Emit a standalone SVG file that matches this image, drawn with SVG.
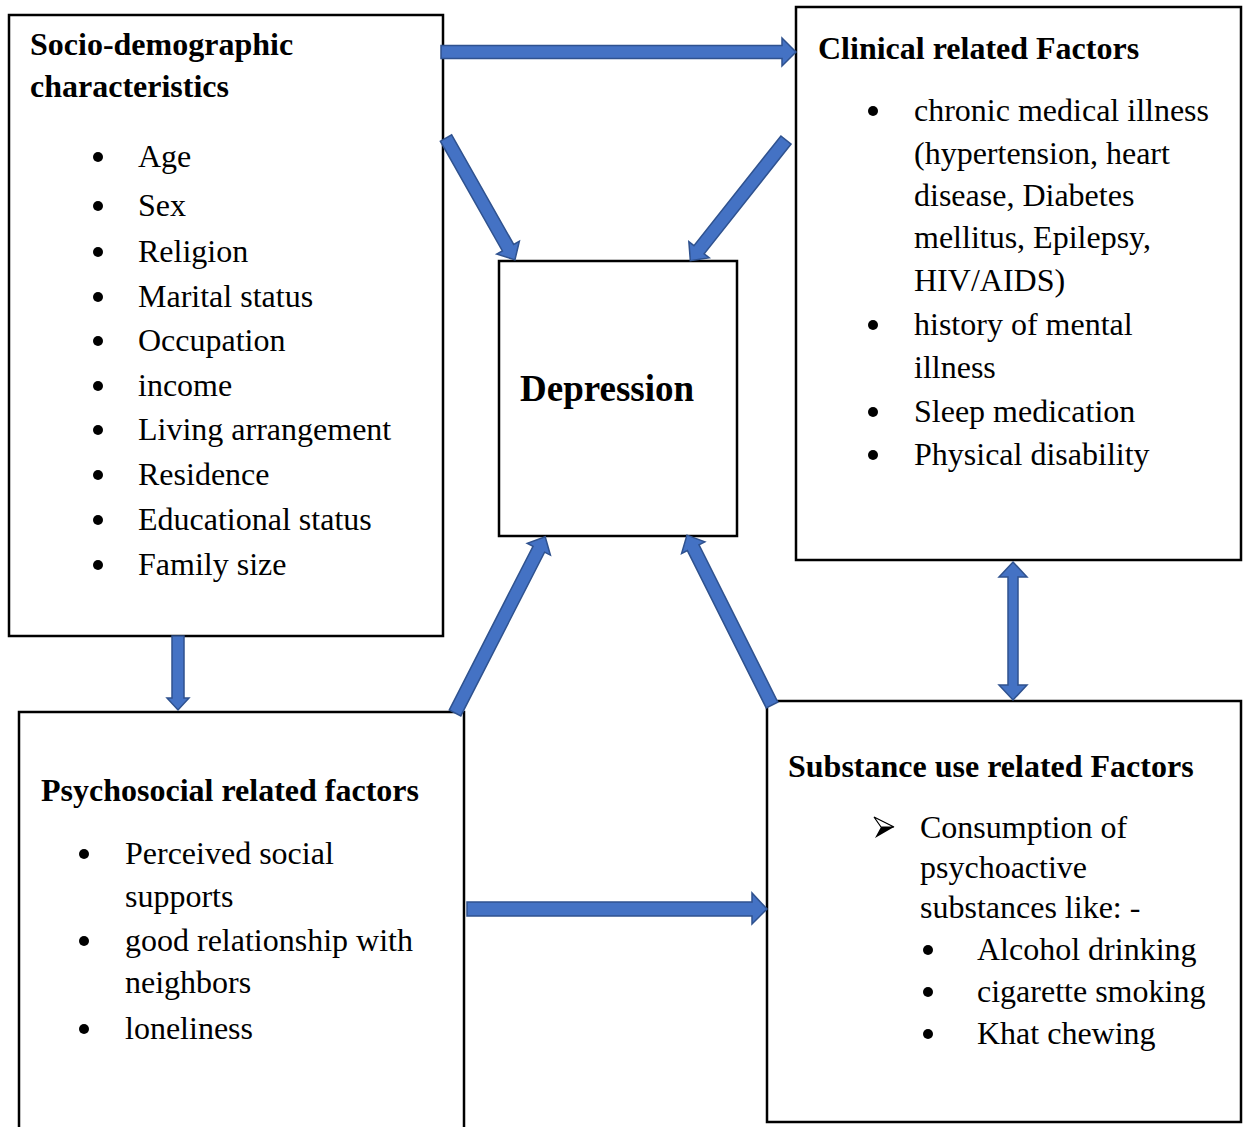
<svg xmlns="http://www.w3.org/2000/svg" width="1244" height="1127" viewBox="0 0 1244 1127">
<style>
.box{fill:#fff;stroke:#000;stroke-width:2.5}
.arr{fill:#4472C4;stroke:#2F528F;stroke-width:1.5;stroke-linejoin:miter}
text{font-family:"Liberation Serif","Times New Roman",serif;fill:#000}
.h{font-weight:bold;font-size:32px}
.b{font-size:32px}
.dot{fill:#000}
</style>
<g id="socio">
<rect class="box" x="9" y="15" width="434" height="621"/>
<text class="h" x="30" y="55">Socio-demographic</text>
<text class="h" x="30" y="97">characteristics</text>
<g class="dot">
<circle cx="98" cy="157" r="5"/><circle cx="98" cy="206" r="5"/><circle cx="98" cy="252" r="5"/><circle cx="98" cy="297" r="5"/><circle cx="98" cy="341" r="5"/><circle cx="98" cy="386" r="5"/><circle cx="98" cy="430" r="5"/><circle cx="98" cy="475" r="5"/><circle cx="98" cy="520" r="5"/><circle cx="98" cy="565" r="5"/>
</g>
<text class="b" x="138" y="167">Age</text>
<text class="b" x="138" y="216">Sex</text>
<text class="b" x="138" y="262">Religion</text>
<text class="b" x="138" y="307">Marital status</text>
<text class="b" x="138" y="351">Occupation</text>
<text class="b" x="138" y="396">income</text>
<text class="b" x="138" y="440">Living arrangement</text>
<text class="b" x="138" y="485">Residence</text>
<text class="b" x="138" y="530">Educational status</text>
<text class="b" x="138" y="575">Family size</text>
</g>
<g id="clinical">
<rect class="box" x="796" y="7" width="445" height="553"/>
<text class="h" x="818" y="59">Clinical related Factors</text>
<g class="dot">
<circle cx="873" cy="111" r="5"/><circle cx="873" cy="325" r="5"/><circle cx="873" cy="412" r="5"/><circle cx="873" cy="455" r="5"/>
</g>
<text class="b" x="914" y="121">chronic medical illness</text>
<text class="b" x="914" y="164">(hypertension, heart</text>
<text class="b" x="914" y="206">disease, Diabetes</text>
<text class="b" x="914" y="248">mellitus, Epilepsy,</text>
<text class="b" x="914" y="291">HIV/AIDS)</text>
<text class="b" x="914" y="335">history of mental</text>
<text class="b" x="914" y="378">illness</text>
<text class="b" x="914" y="422">Sleep medication</text>
<text class="b" x="914" y="465">Physical disability</text>
</g>
<g id="depression">
<rect class="box" x="499" y="261" width="238" height="275"/>
<text class="h" x="520" y="401" style="font-size:37px">Depression</text>
</g>
<g id="psychosocial">
<rect class="box" x="19" y="712" width="445" height="430"/>
<text class="h" x="41" y="801">Psychosocial related factors</text>
<g class="dot">
<circle cx="84" cy="854" r="5"/><circle cx="84" cy="941" r="5"/><circle cx="84" cy="1029" r="5"/>
</g>
<text class="b" x="125" y="864">Perceived social</text>
<text class="b" x="125" y="907">supports</text>
<text class="b" x="125" y="951">good relationship with</text>
<text class="b" x="125" y="993">neighbors</text>
<text class="b" x="125" y="1039">loneliness</text>
</g>
<g id="substance">
<rect class="box" x="767" y="701" width="474" height="421"/>
<text class="h" x="788" y="777">Substance use related Factors</text>
<path d="M874,817 L894,827 L875,838 L881,827 Z" fill="#000"/>
<path d="M874,817 L894,827 L881,827 Z" fill="#fff" stroke="#000" stroke-width="1.2"/>
<text class="b" x="920" y="838">Consumption of</text>
<text class="b" x="920" y="878">psychoactive</text>
<text class="b" x="920" y="918">substances like: -</text>
<g class="dot">
<circle cx="928" cy="950" r="5"/><circle cx="928" cy="992" r="5"/><circle cx="928" cy="1034" r="5"/>
</g>
<text class="b" x="977" y="960">Alcohol drinking</text>
<text class="b" x="977" y="1002">cigarette smoking</text>
<text class="b" x="977" y="1044">Khat chewing</text>
</g>
<g id="connectors">
<path class="arr" d="M441,45.5 L782,45.5 L782,38 L796,52 L782,66 L782,58.5 L441,58.5 Z"/>
<path class="arr" transform="translate(446,138) rotate(60.5)" d="M0,-6.5 L126,-6.5 L126,-13 L140,0 L126,13 L126,6.5 L0,6.5 Z"/>
<path class="arr" transform="translate(786,140) rotate(128.4)" d="M0,-6.5 L140,-6.5 L140,-13 L154,0 L140,13 L140,6.5 L0,6.5 Z"/>
<path class="arr" transform="translate(455,713) rotate(-62.9)" d="M0,-6.5 L184,-6.5 L184,-13 L198,0 L184,13 L184,6.5 L0,6.5 Z"/>
<path class="arr" transform="translate(772,705) rotate(-116.6)" d="M0,-6.5 L176,-6.5 L176,-13 L190,0 L176,13 L176,6.5 L0,6.5 Z"/>
<path class="arr" d="M1013,562 L1027,577 L1018,577 L1018,685 L1027,685 L1013,700 L999,685 L1008,685 L1008,577 L999,577 Z"/>
<path class="arr" d="M172,636 L184,636 L184,698 L189,698 L178,710 L167,698 L172,698 Z"/>
<path class="arr" d="M467,902 L752,902 L752,893 L767,909 L752,924 L752,916 L467,916 Z"/>
</g>
</svg>
